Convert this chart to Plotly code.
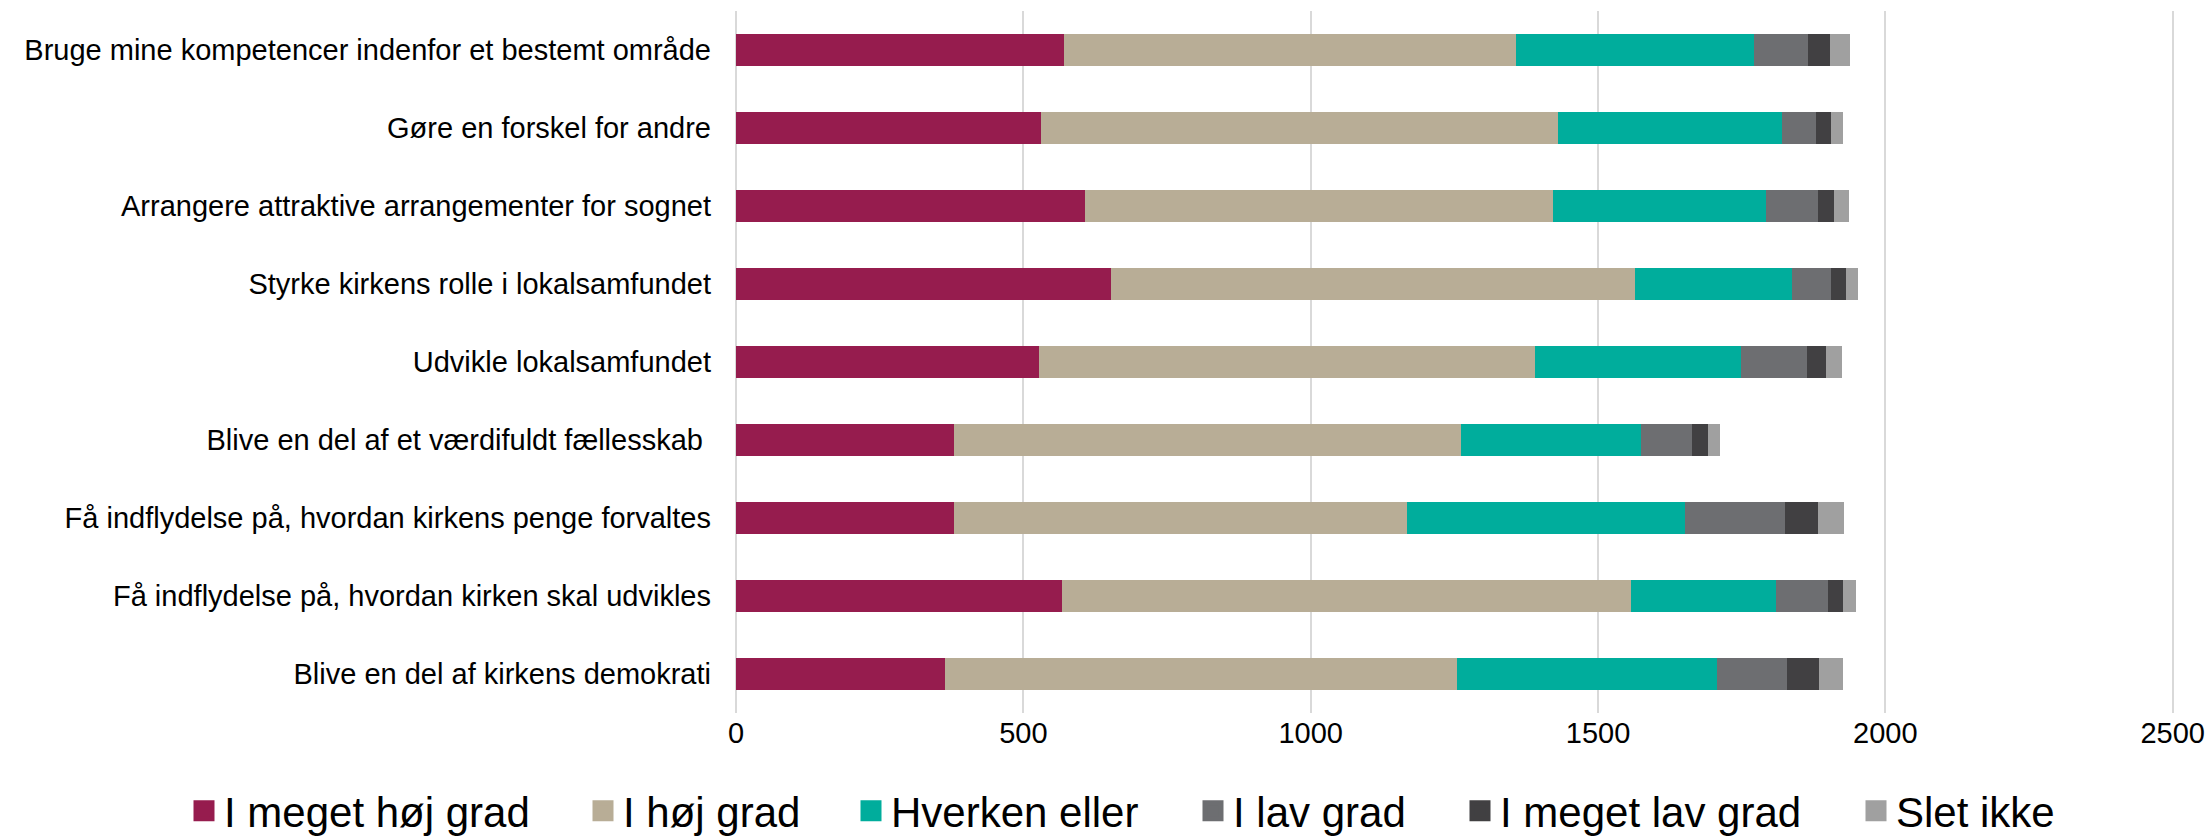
import plotly.graph_objects as go

categories = [
    "Bruge mine kompetencer indenfor et bestemt område",
    "Gøre en forskel for andre",
    "Arrangere attraktive arrangementer for sognet",
    "Styrke kirkens rolle i lokalsamfundet",
    "Udvikle lokalsamfundet",
    "Blive en del af et værdifuldt fællesskab\u00a0",
    "Få indflydelse på, hvordan kirkens penge forvaltes",
    "Få indflydelse på, hvordan kirken skal udvikles",
    "Blive en del af kirkens demokrati",
]

series_names = ["I meget høj grad", "I høj grad", "Hverken eller", "I lav grad", "I meget lav grad", "Slet ikke"]

meget_hoj = [570, 530, 608, 653, 527, 380, 380, 568, 364]
hoj = [787, 900, 814, 912, 863, 882, 788, 990, 891]
hverken = [415, 391, 370, 272, 359, 313, 483, 251, 452]
lav = [93, 59, 90, 68, 114, 89, 174, 92, 121]
meget_lav = [39, 26, 28, 26, 34, 27, 58, 25, 56]
slet_ikke = [34, 21, 26, 21, 27, 22, 45, 23, 42]

series_values = [meget_hoj, hoj, hverken, lav, meget_lav, slet_ikke]
colors = ["#961C4E", "#B8AD96", "#00AD9C", "#6D6E71", "#414042", "#A0A0A0"]

x_ticks = [0, 500, 1000, 1500, 2000, 2500]

FONT = "Liberation Sans, Arial, sans-serif"

fig = go.Figure()
for name, vals, col in zip(series_names, series_values, colors):
    fig.add_trace(go.Bar(
        y=categories, x=vals, name=name, orientation="h",
        marker=dict(color=col, line=dict(width=0)),
        showlegend=False,
    ))

# legend entries (one legend per entry to reproduce spacing)
legend_left = [193, 592, 860, 1202, 1469, 1865]
legend_ids = ["legend", "legend2", "legend3", "legend4", "legend5", "legend6"]
for name, col, lid in zip(series_names, colors, legend_ids):
    fig.add_trace(go.Scatter(
        x=[None], y=[None], mode="markers", name=name,
        marker=dict(symbol="square", size=16, color=col, line=dict(color=col, width=6)),
        legend=lid, showlegend=True,
    ))

W, H = 2210, 836
layout_legends = {}
for lid, lx in zip(legend_ids, legend_left):
    layout_legends[lid] = dict(
        orientation="h", xref="container", yref="container",
        x=(lx - 9) / W, xanchor="left", y=(836 - 811) / H, yanchor="middle",
        font=dict(family=FONT, size=42, color="#000000"),
        bgcolor="rgba(0,0,0,0)", borderwidth=0,
    )

fig.update_layout(
    width=W, height=H,
    barmode="stack", bargap=0.6,
    plot_bgcolor="white", paper_bgcolor="white",
    margin=dict(l=736, r=35, t=11, b=123, autoexpand=False),
    font=dict(family=FONT, color="#000000"),
    **layout_legends,
)
fig.update_xaxes(
    range=[0, 2504], tickvals=x_ticks, ticktext=[str(v) for v in x_ticks],
    showgrid=True, gridcolor="#D9D9D9", gridwidth=2,
    zeroline=True, zerolinecolor="#D9D9D9", zerolinewidth=2,
    showline=False, ticks="", automargin=False,
    tickfont=dict(family=FONT, size=29, color="#000000"),
)
fig.update_yaxes(
    categoryorder="array", categoryarray=categories, autorange="reversed",
    showgrid=False, showline=False, ticks="", ticklabelstandoff=24, automargin=False,
    tickfont=dict(family=FONT, size=29, color="#000000"),
)

fig.write_html(
    "out.html",
    config={"displayModeBar": False},
    post_script="document.body.style.margin='0';document.body.style.overflow='hidden';",
)
